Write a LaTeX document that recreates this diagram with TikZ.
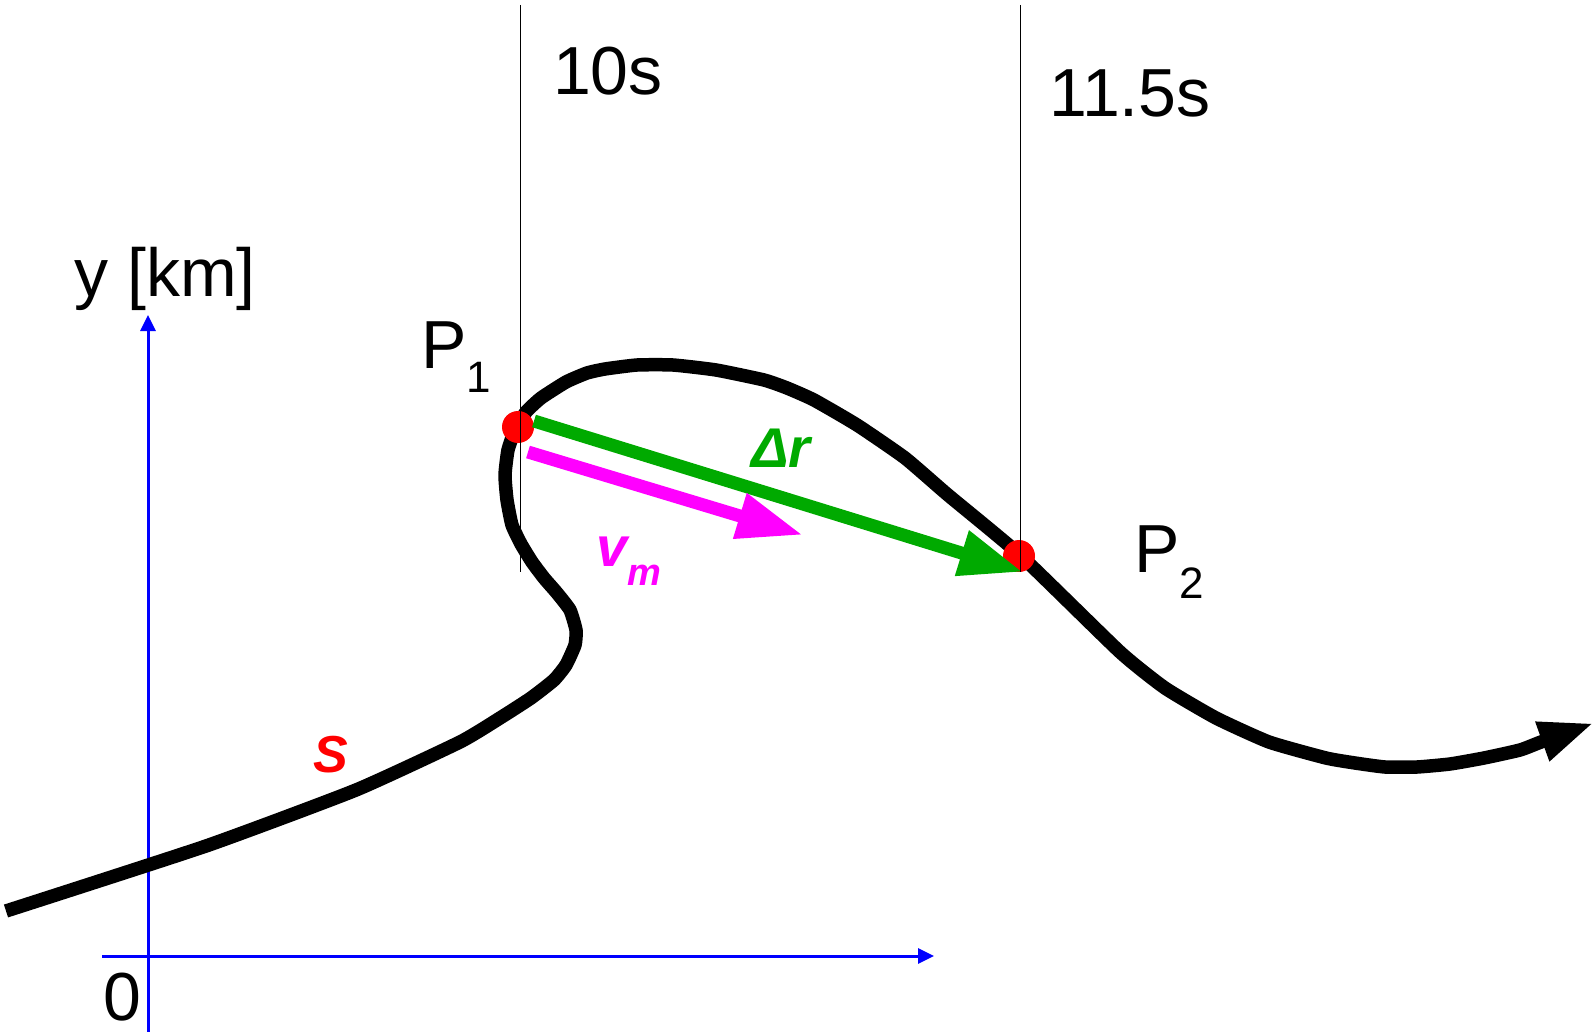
\documentclass[tikz,border=0pt]{standalone}
\usepackage{fontspec}
\setmainfont{Liberation Sans}
\usepackage{xcolor}
\usetikzlibrary{arrows.meta}
\definecolor{drgreen}{RGB}{0,170,0}
\definecolor{vmag}{RGB}{255,0,255}

\begin{document}
\begin{tikzpicture}[
  x=1pt, y=-1pt,
  lbl/.style={font=\fontsize{68}{80}\selectfont, inner sep=0pt},
  sym/.style={font=\fontsize{56}{64}\selectfont\bfseries\itshape, inner sep=0pt},
  dot/.style={circle, fill=red, minimum size=32pt, inner sep=0pt},
  axis/.style={blue, line width=3pt, -{Triangle[length=16pt,width=15pt]}},
  tline/.style={black, line width=0.9pt},
  track/.style={line width=13.5pt, line join=round, -{Triangle[length=55pt,width=38pt]}},
  disp/.style={drgreen, line width=13pt, -{Triangle[length=64pt,width=44pt]}},
  vel/.style={vmag, line width=13pt, -{Triangle[length=66pt,width=44pt]}},
]
\useasboundingbox (0,0) rectangle (1595,1032);
% axes
\coordinate (ybot) at (148,1032);
\coordinate (ytop) at (148,315);
\coordinate (xleft) at (102,956);
\coordinate (xright) at (934,956);
\draw[axis] (ybot) -- (ytop);
\draw[axis] (xleft) -- (xright);
\node[lbl, anchor=base] (ylabel) at (165,297) {y [km]};
\node[lbl, anchor=base] (zero) at (122,1020) {0};
% path of the body
\draw[track] plot[smooth, tension=0.3] coordinates {
  (6,911) (206,846) (356,790) (460,742) (500,718) (531,698) (554,680)
  (566,665) (575,645) (576,630) (570,610) (557,593) (544,578) (532,562)
  (521,544) (512,525) (507,500) (505,475) (508,450) (515,430) (526,412)
  (541,398) (566,382) (587,373) (605,369) (637,365) (673,365) (716,370)
  (764,380) (787,388) (814,400) (857,425) (905,458) (948,495) (1020,555)
  (1120,652) (1165,688) (1216,718) (1269,742) (1326,758) (1355,763)
  (1385,767) (1417,767) (1450,764) (1484,758) (1520,750) (1541,742)
  (1594,723)};
\node[red, font=\fontsize{52}{60}\selectfont\bfseries\itshape, inner sep=0pt, anchor=base] (slabel) at (331,772) {S};
% positions at the two times
\node[dot] (p1) at (518,427) {};
\node[dot] (p2) at (1019,556) {};
\node[lbl, anchor=base west] (p1label) at (421,368) {P\raisebox{-24pt}{\fontsize{44}{50}\selectfont 1}};
\node[lbl, anchor=base west] (p2label) at (1134,572) {P\raisebox{-26pt}{\fontsize{44}{50}\selectfont 2}};
% displacement and mean velocity
\coordinate (drA) at (534,421);
\coordinate (drB) at (1023,572);
\coordinate (vA) at (528,452);
\coordinate (vB) at (803,535);
\draw[disp] (drA) -- (drB);
\draw[vel] (vA) -- (vB);
\node[sym, drgreen, anchor=base] (drlabel) at (781,467) {Δr};
\node[sym, vmag, anchor=base west] (vmlabel) at (596,566) {v\raisebox{-19pt}{\fontsize{38}{44}\selectfont m}};
% time marks
\coordinate (t1top) at (520,5);
\coordinate (t1bot) at (520,572);
\coordinate (t2top) at (1020,5);
\coordinate (t2bot) at (1020,572);
\draw[tline] (t1top) -- (t1bot);
\draw[tline] (t2top) -- (t2bot);
\node[lbl, anchor=base] (time1) at (608,95) {10s};
\node[lbl, anchor=base] (time2) at (1130,117) {11.5s};
\end{tikzpicture}
\end{document}
